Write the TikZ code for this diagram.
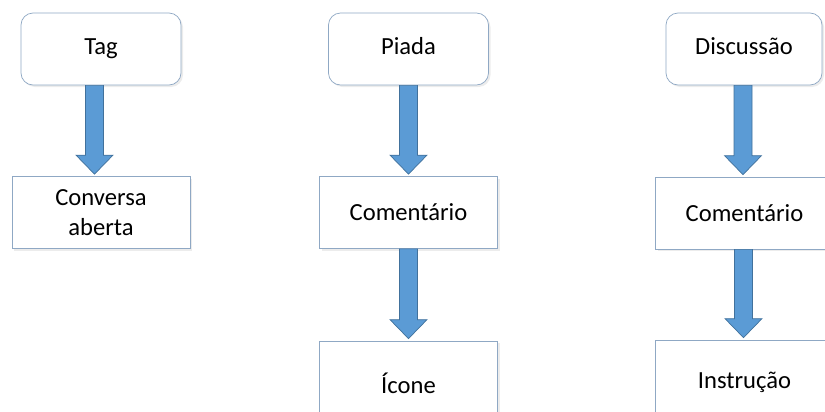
\documentclass[tikz,border=0pt]{standalone}
\usepackage{fontspec}
\setmainfont{Carlito}
\usetikzlibrary{calc,shadows}
\definecolor{borda}{HTML}{8FA8C4}
\definecolor{azul}{HTML}{5B9BD5}
\definecolor{azulesc}{HTML}{41719C}
% seta larga de um no para o outro (opcional: desvio em x)
\newcommand{\seta}[3][0]{%
  \path ($(#2.south)+(#1,0)$) coordinate (s0) (#3.north) coordinate (e0);
  \draw[setalarga] ($(s0)+(-.18,0)$) -- ($(s0|-e0)+(-.18,.42)$) -- ($(s0|-e0)+(-.37,.42)$)
    -- ($(s0|-e0)+(0,.04)$) -- ($(s0|-e0)+(.37,.42)$) -- ($(s0|-e0)+(.18,.42)$) -- ($(s0)+(.18,0)$) -- cycle;}
\begin{document}
\begin{tikzpicture}[every node/.append style={font=\fontsize{14}{17}\selectfont},
  caixa/.style={draw=borda, fill=white, minimum width=3.56cm, minimum height=1.44cm, align=center,
    drop shadow={opacity=.15, shadow xshift=.04cm, shadow yshift=-.04cm}},
  topo/.style={caixa, rounded corners=.24cm, minimum width=3.2cm, text height=1.6ex, text depth=.4ex},
  baixo/.style={caixa, minimum height=1.68cm},
  setalarga/.style={fill=azul, draw=azulesc, line width=.4pt}]
  \clip (0,0) rectangle (16.5,-8.22);
  \node[topo] (tag) at (2.02,-0.98) {Tag};
  \node[caixa] (conversa) at (2.02,-4.25) {Conversa\\aberta};
  \node[topo] (piada) at (8.17,-0.98) {Piada};
  \node[caixa] (coment1) at (8.17,-4.25) {Comentário};
  \node[baixo] (icone) at (8.17,-7.66) {Ícone};
  \node[topo, minimum width=3.12cm] (discussao) at (14.88,-0.98) {Discussão};
  \node[caixa] (coment2) at (14.89,-4.26) {Comentário};
  \node[baixo] (instrucao) at (14.89,-7.64) {Instrução};
  \seta[-.13]{tag}{conversa} \seta{piada}{coment1} \seta{coment1}{icone}
  \seta[-.02]{discussao}{coment2} \seta[-.02]{coment2}{instrucao}
\end{tikzpicture}
\end{document}
